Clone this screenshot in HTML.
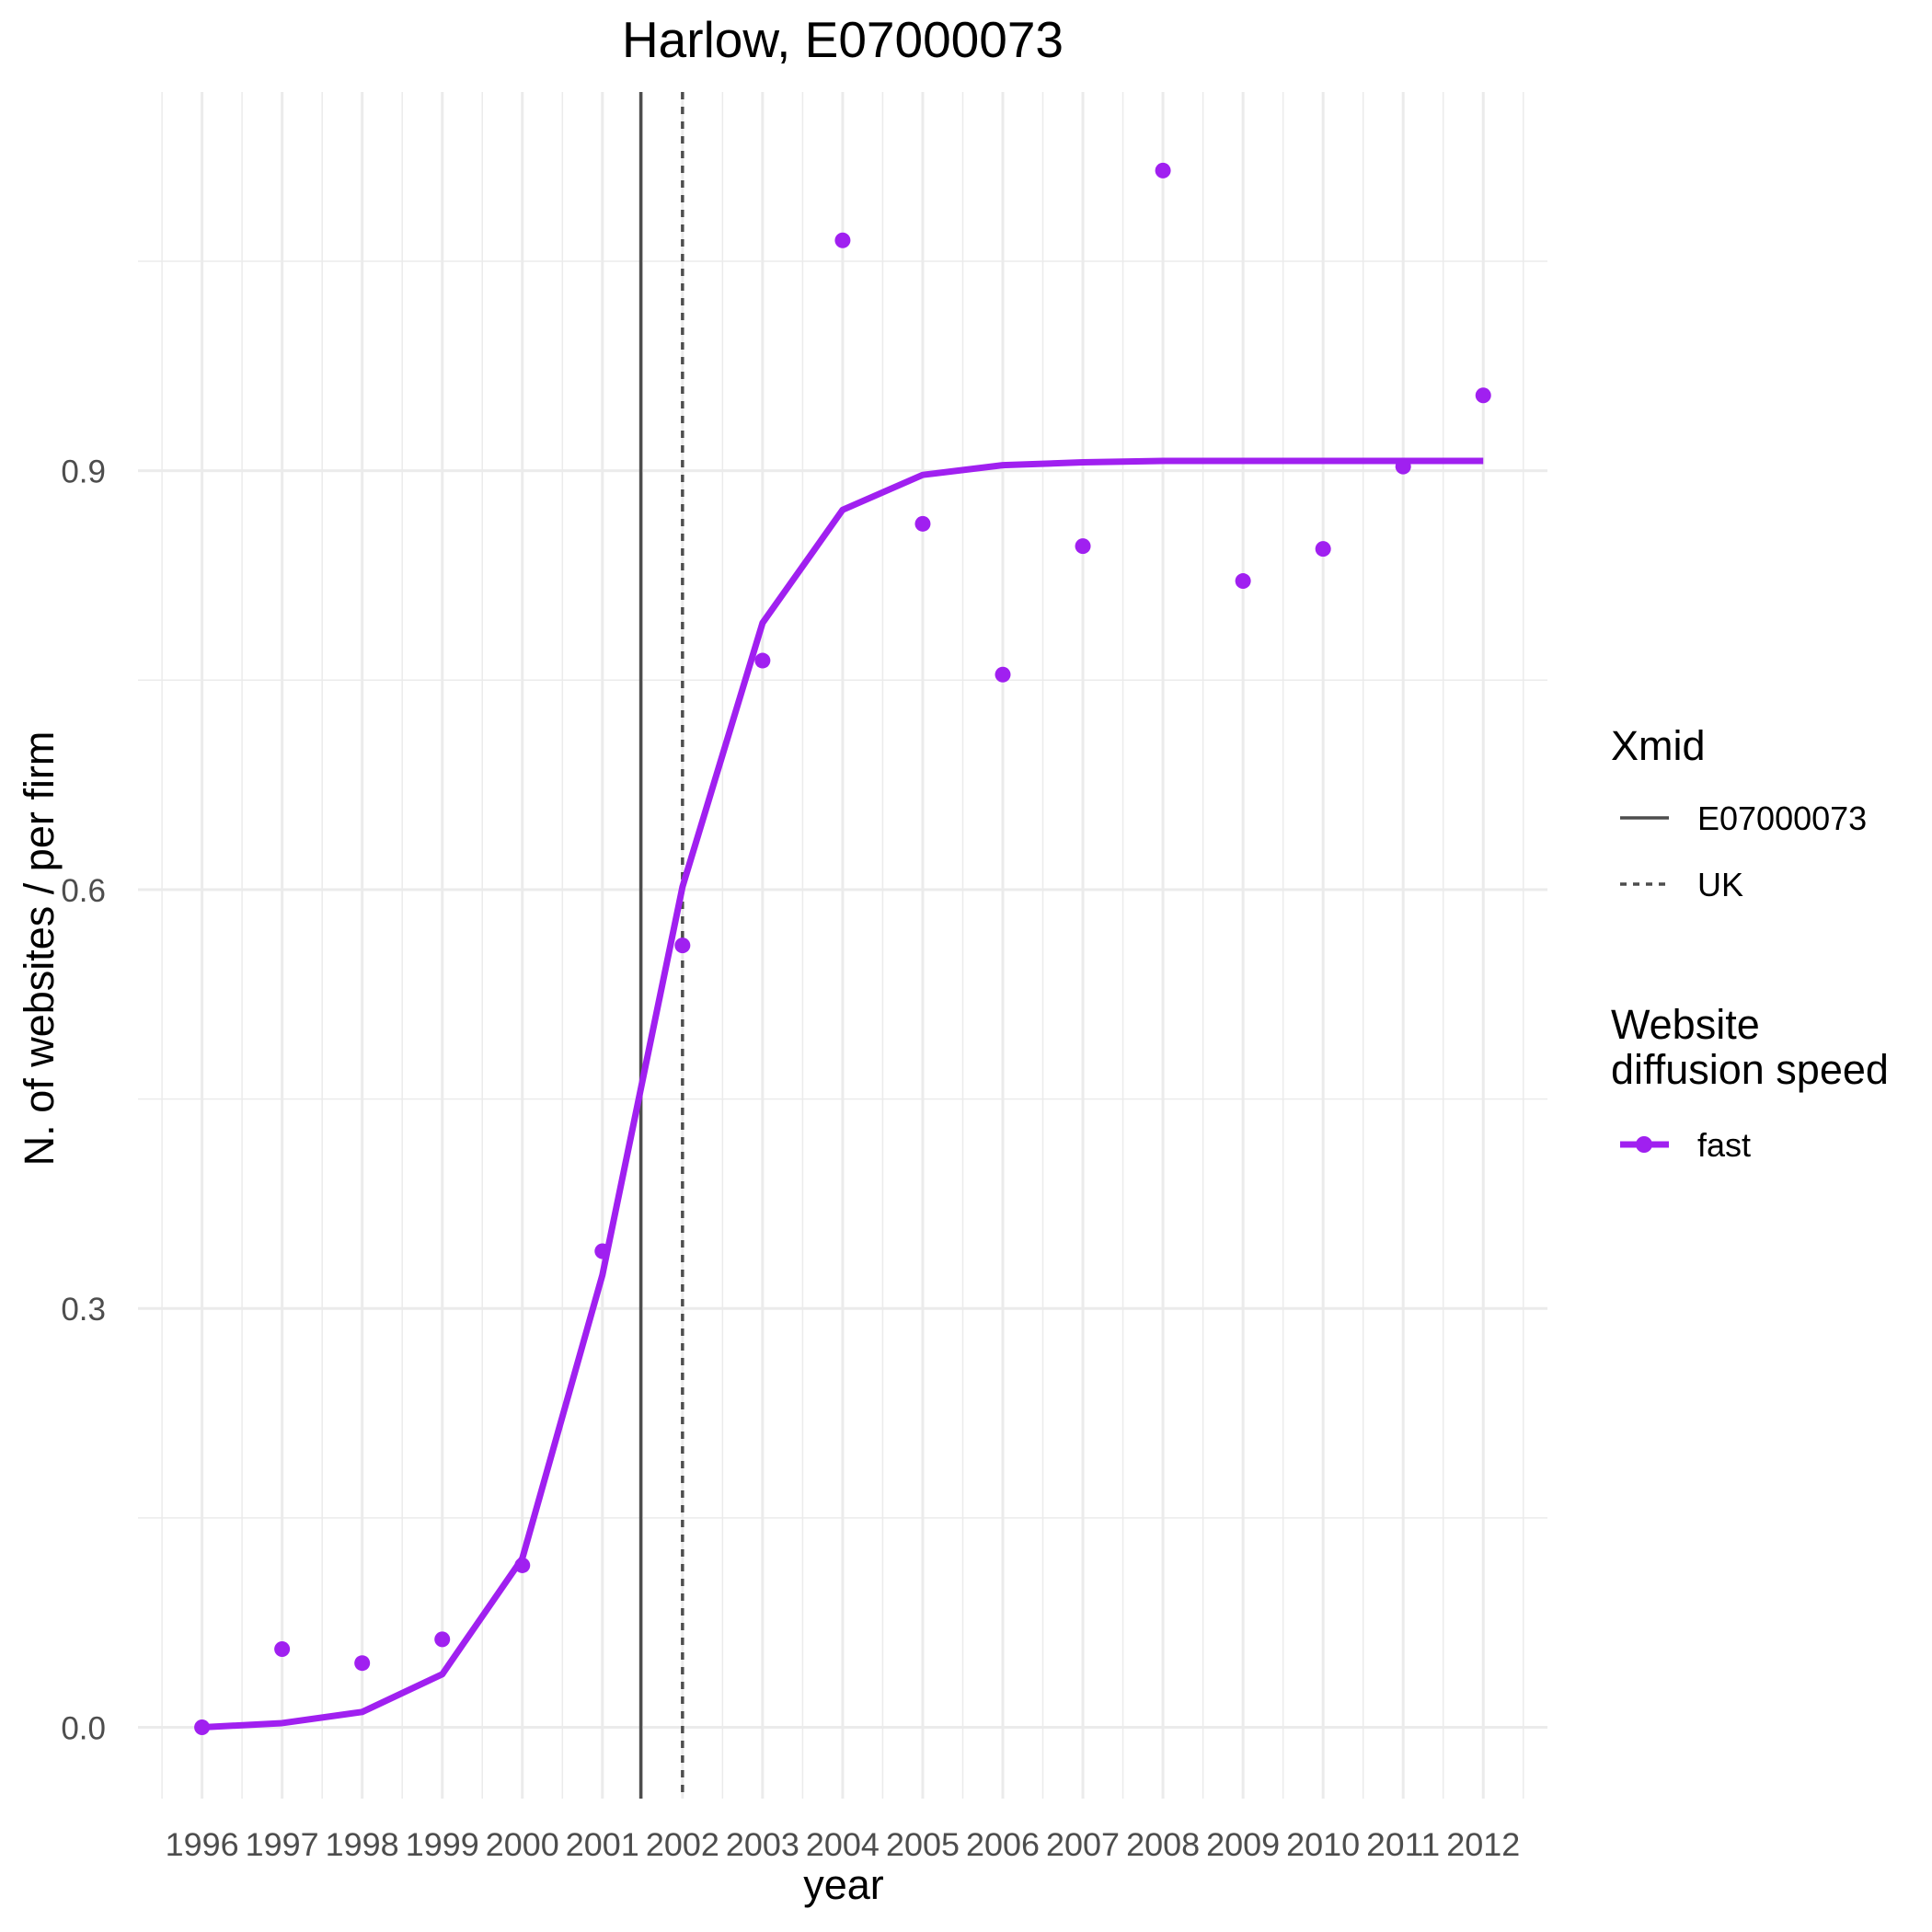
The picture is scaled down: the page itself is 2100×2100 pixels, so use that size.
<!DOCTYPE html>
<html><head><meta charset="utf-8"><style>
html,body{margin:0;padding:0;background:#fff;}
svg{display:block;font-family:"Liberation Sans",Arial,sans-serif;}
</style></head><body>
<svg id="chart" width="2100" height="2100" viewBox="0 0 2100 2100">
<g id="grid"></g>
<g id="vlines"></g>
<g id="series"></g>
<g id="axes"></g>
<text x="916" y="62" font-size="55" text-anchor="middle" fill="#000">Harlow, E07000073</text>
<text x="917" y="2064" font-size="45" text-anchor="middle" fill="#000">year</text>
<text transform="translate(58,1031) rotate(-90)" font-size="45" text-anchor="middle" fill="#000">N. of websites / per firm</text>
<g>
<text x="1751" y="826" font-size="45" fill="#000">Xmid</text>
<line x1="1761" y1="889" x2="1814" y2="889" stroke="#4d4d4d" stroke-width="3.5"/>
<text x="1845" y="902" font-size="36" fill="#000">E07000073</text>
<line x1="1761" y1="961" x2="1814" y2="961" stroke="#4d4d4d" stroke-width="3.5" stroke-dasharray="7,7"/>
<text x="1845" y="974" font-size="36" fill="#000">UK</text>
</g>
<g>
<text x="1751" y="1129" font-size="45" fill="#000">Website</text>
<text x="1751" y="1178" font-size="45" fill="#000">diffusion speed</text>
<line x1="1761" y1="1244" x2="1814" y2="1244" stroke="#A020F0" stroke-width="7"/>
<circle cx="1787" cy="1244" r="9" fill="#A020F0"/>
<text x="1845" y="1257" font-size="36" fill="#000">fast</text>
</g>
</svg>
<script>
const years = [1996,1997,1998,1999,2000,2001,2002,2003,2004,2005,2006,2007,2008,2009,2010,2011,2012];
const pointValues = [0,0.056,0.046,0.063,0.116,0.341,0.560,0.764,1.065,0.862,0.754,0.846,1.115,0.821,0.844,0.903,0.954];
const lineValues = [0,0.003,0.011,0.038,0.121,0.324,0.602,0.791,0.872,0.897,0.904,0.906,0.907,0.907,0.907,0.907,0.907];
const yTicks = [0,0.3,0.6,0.9];
const yTickLabels = ["0.0","0.3","0.6","0.9"];
const yMinor = [0.15,0.45,0.75,1.05];
const xmidRegion = 2001.48;
const xmidUK = 2002.0;

const NS="http://www.w3.org/2000/svg";
function X(v){return 219.6+(v-1996)*87.04;}
function Y(v){return 1877.5-v*1517.6;}
const panelL=150, panelR=1682, panelT=100, panelB=1955;
function mk(tag,attrs,parent){const e=document.createElementNS(NS,tag);for(const k in attrs)e.setAttribute(k,attrs[k]);parent.appendChild(e);return e;}
const grid=document.getElementById('grid');
yMinor.forEach(v=>{
  const l=mk('line',{x1:panelL,x2:panelR,y1:Y(v),y2:Y(v),stroke:'#ebebeb','stroke-width':1.5},grid);
  
  
});
yTicks.forEach(v=>{
  const l=mk('line',{x1:panelL,x2:panelR,y1:Y(v),y2:Y(v),stroke:'#ebebeb','stroke-width':3},grid);
  
  
});
for(let i=0;i<=years.length;i++){
  const v=years[0]-0.5+i;
  const l=mk('line',{x1:X(v),x2:X(v),y1:panelT,y2:panelB,stroke:'#ebebeb','stroke-width':1.5},grid);
  
  
}
years.forEach(v=>{
  const l=mk('line',{x1:X(v),x2:X(v),y1:panelT,y2:panelB,stroke:'#ebebeb','stroke-width':3},grid);
  
  
});
const vl=document.getElementById('vlines');
const s1=mk('line',{x1:X(xmidRegion),x2:X(xmidRegion),y1:panelT,y2:panelB,stroke:'#4d4d4d','stroke-width':3.5},vl);


const s2=mk('line',{x1:X(xmidUK),x2:X(xmidUK),y1:panelT,y2:panelB,stroke:'#4d4d4d','stroke-width':3.5,'stroke-dasharray':'8,8'},vl);


const ser=document.getElementById('series');
const pts=years.map((y,i)=>X(y)+','+Y(lineValues[i])).join(' ');
const pl=mk('polyline',{points:pts,fill:'none',stroke:'#A020F0','stroke-width':7,'stroke-linejoin':'round'},ser);


years.forEach((y,i)=>{
  const c=mk('circle',{cx:X(y),cy:Y(pointValues[i]),r:8.5,fill:'#A020F0'},ser);
  
  
});
const ax=document.getElementById('axes');
yTicks.forEach((v,i)=>{
  const t=mk('text',{x:115,y:Y(v)+13,'font-size':35,'text-anchor':'end',fill:'#4d4d4d'},ax);
  t.textContent=yTickLabels[i];
  
  
});
years.forEach(v=>{
  const t=mk('text',{x:X(v),y:2017,'font-size':35,'text-anchor':'middle',fill:'#4d4d4d',textLength:80,lengthAdjust:'spacingAndGlyphs'},ax);
  t.textContent=String(v);
  
  
});
</script>
</body></html>
